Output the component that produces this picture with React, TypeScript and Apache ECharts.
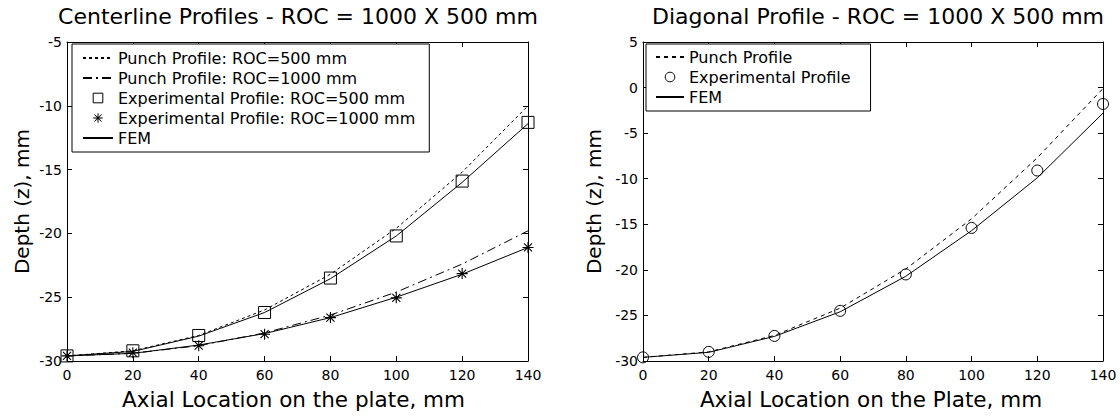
import React, { useEffect, useRef } from "react";
import * as echarts from "echarts";

const xs = [0, 20, 40, 60, 80, 100, 120, 140];

// Left chart: Centerline profiles
const punch500 = [-29.6, -29.2, -28.0, -26.0, -23.2, -19.6, -15.2, -10.0];
const punch1000 = [-29.6, -29.4, -28.8, -27.8, -26.4, -24.6, -22.4, -19.8];
const exp500 = [-29.6, -29.2, -28.0, -26.2, -23.5, -20.2, -15.9, -11.3];
const exp1000 = [-29.6, -29.35, -28.8, -27.9, -26.6, -25.05, -23.15, -21.1];
const fem500 = [-29.6, -29.25, -28.05, -26.2, -23.55, -20.2, -16.0, -11.4];
const fem1000 = [-29.6, -29.4, -28.75, -27.85, -26.6, -25.0, -23.2, -21.1];

// Right chart: Diagonal profile
const diagPunch = [-29.6, -29.0, -27.2, -24.2, -19.9, -14.4, -7.7, -0.1];
const diagExp = [-29.6, -29.0, -27.25, -24.5, -20.5, -15.4, -9.1, -1.8];
const diagFem = [-29.6, -29.05, -27.3, -24.6, -20.7, -15.7, -9.9, -2.8];

const leftTitle = "Centerline Profiles - ROC = 1000 X 500 mm";
const rightTitle = "Diagonal Profile - ROC = 1000 X 500 mm";
const leftXName = "Axial Location on the plate, mm";
const rightXName = "Axial Location on the Plate, mm";
const yName = "Depth (z), mm";

const nPunch500 = "Punch Profile: ROC=500 mm";
const nPunch1000 = "Punch Profile: ROC=1000 mm";
const nExp500 = "Experimental Profile: ROC=500 mm";
const nExp1000 = "Experimental Profile: ROC=1000 mm";
const nFem = "FEM";
const nPunch = "Punch Profile";
const nExp = "Experimental Profile";

const FONT = "DejaVu Sans";
const STAR =
  "path://M5.4 0H6.6V12H5.4Z M0 5.4H12V6.6H0Z M1.2 2L2 1.2L10.8 10L10 10.8Z M10 1.2L10.8 2L2 10.8L1.2 10Z";

const pairs = (ys: number[]) => xs.map((x, i) => [x, ys[i]]);

function makeAxes(gridIndex: number, ymin: number, ymax: number, xName: string, yGap: number, namePad: number[]) {
  const line = { show: true, onZero: false, lineStyle: { color: "#000", width: 1 } };
  const tick = { show: true, inside: true, length: 5, lineStyle: { color: "#000" } };
  const label = { color: "#000", fontFamily: FONT, fontSize: 14 };
  const xa = [
    {
      type: "value", gridIndex, min: 0, max: 140, interval: 20, position: "bottom",
      axisLine: line, axisTick: tick, splitLine: { show: false },
      axisLabel: { ...label, margin: 7 },
      name: xName, nameLocation: "middle", nameGap: 27,
      nameTextStyle: { color: "#000", fontFamily: FONT, fontSize: 21.5, padding: namePad },
    },
    {
      type: "value", gridIndex, min: 0, max: 140, interval: 20, position: "top",
      axisLine: line, axisTick: tick, splitLine: { show: false }, axisLabel: { show: false },
    },
  ];
  const ya = [
    {
      type: "value", gridIndex, min: ymin, max: ymax, interval: 5, position: "left",
      axisLine: line, axisTick: tick, splitLine: { show: false },
      axisLabel: { ...label, margin: 5 },
      name: yName, nameLocation: "middle", nameGap: yGap, nameRotate: 90,
      nameTextStyle: { color: "#000", fontFamily: FONT, fontSize: 20 },
    },
    {
      type: "value", gridIndex, min: ymin, max: ymax, interval: 5, position: "right",
      axisLine: line, axisTick: tick, splitLine: { show: false }, axisLabel: { show: false },
    },
  ];
  return { xa, ya };
}

const lineItem = (name: string) => ({ name, itemStyle: { opacity: 0 } });
const markItem = (name: string) => ({ name, itemStyle: { borderWidth: 1 } });

export default function App() {
  const ref = useRef<HTMLDivElement>(null);
  useEffect(() => {
    if (!ref.current) return;
    const chart = echarts.init(ref.current, undefined, { renderer: "svg" });
    const L = makeAxes(0, -30, -5, leftXName, 35, [0, 8, 0, 0]);
    const R = makeAxes(1, -30, 5, rightXName, 39, [0, 4, 0, 0]);
    const lineBase = { type: "line", symbol: "none", silent: true };
    const markerBase = (symbol: string, size: number, filled: boolean) => ({
      type: "line",
      symbol,
      symbolSize: size,
      showSymbol: true,
      showAllSymbol: true,
      lineStyle: { width: 0, opacity: 0 },
      itemStyle: filled
        ? { color: "#000", borderWidth: 0 }
        : { color: "rgba(255,255,255,0)", borderColor: "#000", borderWidth: 1 },
      silent: true,
    });
    const legendBase = {
      orient: "vertical",
      top: 44,
      itemWidth: 30,
      itemHeight: 12,
      itemGap: 4,
      itemTextGap: 9,
      borderColor: "#000",
      borderWidth: 1,
      backgroundColor: "#fff",
      textStyle: { color: "#000", fontFamily: FONT, fontSize: 16 },
      selectedMode: false,
    };
    chart.setOption({
      animation: false,
      backgroundColor: "#fff",
      title: [
        {
          text: leftTitle, left: 293, top: 0, textAlign: "center",
          textStyle: { color: "#000", fontFamily: FONT, fontSize: 22, fontWeight: "normal" },
        },
        {
          text: rightTitle, left: 873, top: 0, textAlign: "center",
          textStyle: { color: "#000", fontFamily: FONT, fontSize: 22, fontWeight: "normal" },
        },
      ],
      legend: [
        {
          ...legendBase, left: 72, padding: [6, 14, 6, 10],
          data: [lineItem(nPunch500), lineItem(nPunch1000), markItem(nExp500), nExp1000, lineItem(nFem)],
        },
        {
          ...legendBase, left: 646, padding: [5, 20, 6, 9], itemWidth: 28, itemTextGap: 14,
          data: [lineItem(nPunch), markItem(nExp), lineItem(nFem)],
        },
      ],
      grid: [
        { left: 67, top: 42, width: 461, height: 319, show: false },
        { left: 643, top: 42, width: 460, height: 319, show: false },
      ],
      xAxis: [...L.xa, ...R.xa],
      yAxis: [...L.ya, ...R.ya],
      series: [
        {
          ...lineBase, name: nPunch500, xAxisIndex: 0, yAxisIndex: 0, data: pairs(punch500),
          lineStyle: { color: "#000", width: 1, type: [3, 3] }, itemStyle: { color: "#000" },
        },
        {
          ...lineBase, name: nPunch1000, xAxisIndex: 0, yAxisIndex: 0, data: pairs(punch1000),
          lineStyle: { color: "#000", width: 1, type: [9, 4, 2, 4] }, itemStyle: { color: "#000" },
        },
        { ...markerBase("rect", 12, false), name: nExp500, xAxisIndex: 0, yAxisIndex: 0, data: pairs(exp500) },
        { ...markerBase(STAR, 11, true), name: nExp1000, xAxisIndex: 0, yAxisIndex: 0, data: pairs(exp1000) },
        {
          ...lineBase, name: nFem, xAxisIndex: 0, yAxisIndex: 0, data: pairs(fem500),
          lineStyle: { color: "#000", width: 1 }, itemStyle: { color: "#000" },
        },
        {
          ...lineBase, name: nFem, xAxisIndex: 0, yAxisIndex: 0, data: pairs(fem1000),
          lineStyle: { color: "#000", width: 1 }, itemStyle: { color: "#000" },
        },
        {
          ...lineBase, name: nPunch, xAxisIndex: 2, yAxisIndex: 2, data: pairs(diagPunch),
          lineStyle: { color: "#000", width: 1, type: [4, 4] }, itemStyle: { color: "#000" },
        },
        { ...markerBase("circle", 11, false), name: nExp, xAxisIndex: 2, yAxisIndex: 2, data: pairs(diagExp) },
        {
          ...lineBase, name: nFem, xAxisIndex: 2, yAxisIndex: 2, data: pairs(diagFem),
          lineStyle: { color: "#000", width: 1 }, itemStyle: { color: "#000" },
        },
      ],
    });
    return () => chart.dispose();
  }, []);
  return (
    <div
      ref={ref}
      style={{ position: "fixed", left: 0, top: 0, width: 1120, height: 417 }}
    />
  );
}
